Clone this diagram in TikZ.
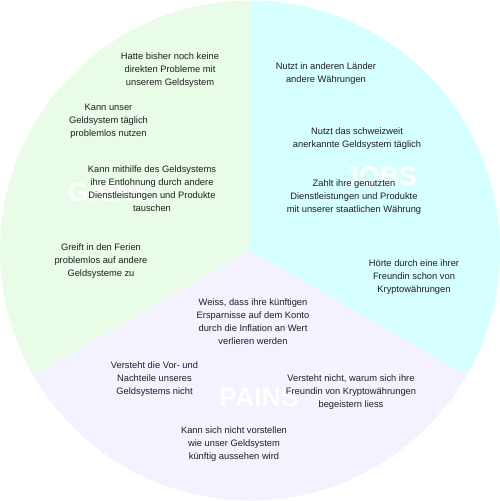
\documentclass[tikz,border=0pt]{standalone}
\usepackage{fontspec}
\setmainfont{Liberation Sans}
\definecolor{gainsgreen}{RGB}{232,252,232}
\definecolor{jobscyan}{RGB}{214,255,255}
\definecolor{painsviolet}{RGB}{244,242,255}
\definecolor{notegray}{RGB}{30,30,30}
\tikzset{
  note/.style={align=center, text=notegray, inner sep=0pt,
    font=\fontsize{7pt}{9.75pt}\selectfont},
  sectorlabel/.style={text=white, inner sep=0pt,
    font=\fontsize{20pt}{20pt}\selectfont\bfseries}
}
\begin{document}
\begin{tikzpicture}[x=0.75pt, y=0.75pt]
  \useasboundingbox (-250,-250.5) rectangle (250,250.5);
  % drei Sektoren
  \fill[gainsgreen] (0,0) -- (90:250) arc[start angle=90, end angle=210, radius=250] -- cycle;
  \fill[jobscyan] (0,0) -- (-30:250) arc[start angle=-30, end angle=90, radius=250] -- cycle;
  \fill[painsviolet] (0,0) -- (210:250) arc[start angle=210, end angle=330, radius=250] -- cycle;

  % Titel der Sektoren
  \node[sectorlabel] (gains) at (-140,58.5) {GAINS};
  \node[sectorlabel] (jobs) at (130.5,74.5) {JOBS};
  \node[sectorlabel] (pains) at (9,-146.5) {PAINS};

  % Gains
  \node[note] (g1) at (-80,180.5) {Hatte bisher noch keine\\direkten Probleme mit\\unserem Geldsystem};
  \node[note] (g2) at (-141.5,129.5) {Kann unser\\Geldsystem täglich\\problemlos nutzen};
  \node[note] (g3) at (-98,61.5) {Kann mithilfe des Geldsystems\\ihre Entlohnung durch andere\\Dienstleistungen und Produkte\\tauschen};
  \node[note] (g4) at (-149,-10.5) {Greift in den Ferien\\problemlos auf andere\\Geldsysteme zu};

  % Jobs
  \node[note] (j1) at (76,177) {Nutzt in anderen Länder\\andere Währungen};
  \node[note] (j2) at (107,112) {Nutzt das schweizweit\\anerkannte Geldsystem täglich};
  \node[note] (j3) at (104,53.5) {Zahlt ihre genutzten\\Dienstleistungen und Produkte\\mit unserer staatlichen Währung};
  \node[note] (j4) at (164,-26.5) {Hörte durch eine ihrer\\Freundin schon von\\Kryptowährungen};

  % Pains
  \node[note] (p1) at (3,-71) {Weiss, dass ihre künftigen\\Ersparnisse auf dem Konto\\durch die Inflation an Wert\\verlieren werden};
  \node[note] (p2) at (-95.5,-128.5) {Versteht die Vor- und\\Nachteile unseres\\Geldsystems nicht};
  \node[note] (p3) at (101,-141.5) {Versteht nicht, warum sich ihre\\Freundin von Kryptowährungen\\begeistern liess};
  \node[note] (p4) at (-16,-193.5) {Kann sich nicht vorstellen\\wie unser Geldsystem\\künftig aussehen wird};
\end{tikzpicture}
\end{document}
